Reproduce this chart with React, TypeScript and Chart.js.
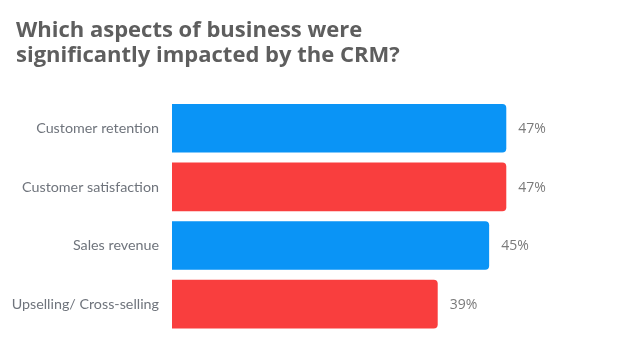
import React, { useEffect, useRef } from 'react';
import { Chart, registerables } from 'chart.js';

Chart.register(...registerables);

const titleLines = ['Which aspects of business were', 'significantly impacted by the CRM?'];
const categories = ['Customer retention', 'Customer satisfaction', 'Sales revenue', 'Upselling/ Cross-selling'];
const values = [47, 47, 45, 39];
const valueLabels = ['47%', '47%', '45%', '39%'];
const barColors = ['#0a94f6', '#f93e3e', '#0a94f6', '#f93e3e'];

export default function App() {
  const ref = useRef<HTMLCanvasElement>(null);

  useEffect(() => {
    if (!ref.current) return;

    const titlePlugin = {
      id: 'titleText',
      afterDraw(chart: any) {
        const ctx = chart.ctx;
        ctx.save();
        ctx.font = 'bold 22px "Open Sans"';
        const w = ctx.measureText(titleLines[0]).width;
        const size = Math.min(26, Math.max(18, (22 * 346) / w));
        ctx.font = `bold ${size.toFixed(1)}px "Open Sans"`;
        ctx.fillStyle = '#5e5e5e';
        ctx.textAlign = 'left';
        ctx.textBaseline = 'alphabetic';
        ctx.fillText(titleLines[0], 16, 37);
        ctx.fillText(titleLines[1], 16, 62);
        ctx.restore();
      },
    };

    const valuePlugin = {
      id: 'valueLabels',
      afterDatasetsDraw(chart: any) {
        const ctx = chart.ctx;
        const meta = chart.getDatasetMeta(0);
        ctx.save();
        ctx.font = '14px "Open Sans"';
        ctx.fillStyle = '#7a7a7a';
        ctx.textAlign = 'left';
        ctx.textBaseline = 'middle';
        meta.data.forEach((bar: any, i: number) => {
          ctx.fillText(valueLabels[i], bar.x + 12, bar.y + 1);
        });
        ctx.restore();
      },
    };

    const chart = new Chart(ref.current, {
      type: 'bar',
      data: {
        labels: categories,
        datasets: [
          {
            data: values,
            backgroundColor: barColors,
            borderRadius: 4,
            borderSkipped: false,
            barPercentage: 0.83,
            categoryPercentage: 1,
          },
        ],
      },
      options: {
        indexAxis: 'y',
        responsive: true,
        maintainAspectRatio: false,
        animation: false,
        layout: { padding: { top: 99, bottom: 16, left: 0, right: 108 } },
        plugins: {
          legend: { display: false },
          title: { display: false },
          tooltip: { enabled: false },
        },
        scales: {
          x: {
            display: false,
            min: 8,
            max: 50,
          },
          y: {
            grid: { display: false, drawTicks: false },
            border: { display: false },
            ticks: {
              color: '#6f747c',
              font: { family: 'Lato', size: 14.3 },
              padding: 13,
            },
            afterFit(scale: any) {
              scale.width = 172;
            },
          },
        },
      },
      plugins: [titlePlugin, valuePlugin],
    });

    return () => chart.destroy();
  }, []);

  return (
    <div style={{ position: 'fixed', left: 0, top: 0, width: 640, height: 355, background: '#ffffff' }}>
      <canvas ref={ref} />
    </div>
  );
}
